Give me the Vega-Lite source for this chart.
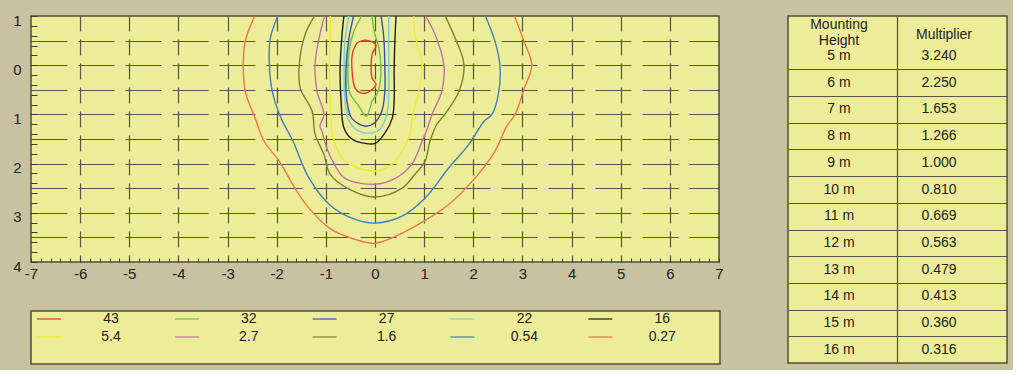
{
  "$schema": "https://vega.github.io/schema/vega-lite/v6.json",
  "background": "#C9C2A0",
  "padding": {"left": 11, "top": 12, "right": 5, "bottom": 5},
  "config": {
    "font": "Liberation Sans",
    "view": {"fill": "#EDED99", "stroke": "#4F4F3A", "strokeWidth": 1.5}
  },
  "datasets": {
    "contours": [
      {"c":"43","i":0,"x":-0.37,"y":-0.45},{"c":"43","i":1,"x":-0.2,"y":-0.51},{"c":"43","i":2,"x":0.02,"y":-0.41},{"c":"43","i":3,"x":-0.06,"y":-0.22},{"c":"43","i":4,"x":-0.06,"y":0.26},{"c":"43","i":5,"x":0.02,"y":0.39},{"c":"43","i":6,"x":-0.2,"y":0.57},{"c":"43","i":7,"x":-0.39,"y":0.49},{"c":"43","i":8,"x":-0.47,"y":0.06},{"c":"43","i":9,"x":-0.45,"y":-0.28},{"c":"43","i":10,"x":-0.37,"y":-0.45},
      {"c":"32","i":0,"x":-0.26,"y":-1.02},{"c":"32","i":1,"x":-0.43,"y":-0.69},{"c":"32","i":2,"x":-0.53,"y":-0.28},{"c":"32","i":3,"x":-0.55,"y":0.18},{"c":"32","i":4,"x":-0.51,"y":0.57},{"c":"32","i":5,"x":-0.33,"y":0.83},{"c":"32","i":6,"x":-0.18,"y":1.04},{"c":"32","i":7,"x":-0.1,"y":0.87},{"c":"32","i":8,"x":-0.06,"y":0.73},{"c":"32","i":9,"x":0.04,"y":0.59},{"c":"32","i":10,"x":0.1,"y":0.39},{"c":"32","i":11,"x":0.12,"y":0.06},{"c":"32","i":12,"x":0.08,"y":-0.35},{"c":"32","i":13,"x":-0.02,"y":-0.69},{"c":"32","i":14,"x":-0.06,"y":-1.02},
      {"c":"27","i":0,"x":-0.43,"y":-1.02},{"c":"27","i":1,"x":-0.53,"y":-0.55},{"c":"27","i":2,"x":-0.59,"y":0.06},{"c":"27","i":3,"x":-0.57,"y":0.73},{"c":"27","i":4,"x":-0.47,"y":1.08},{"c":"27","i":5,"x":-0.2,"y":1.24},{"c":"27","i":6,"x":-0.02,"y":1.18},{"c":"27","i":7,"x":0.14,"y":0.93},{"c":"27","i":8,"x":0.2,"y":0.53},{"c":"27","i":9,"x":0.2,"y":0.06},{"c":"27","i":10,"x":0.18,"y":-0.55},{"c":"27","i":11,"x":0.12,"y":-1.02},
      {"c":"22","i":0,"x":-0.53,"y":-1.02},{"c":"22","i":1,"x":-0.61,"y":-0.49},{"c":"22","i":2,"x":-0.63,"y":0.06},{"c":"22","i":3,"x":-0.61,"y":0.73},{"c":"22","i":4,"x":-0.53,"y":1.14},{"c":"22","i":5,"x":-0.33,"y":1.34},{"c":"22","i":6,"x":-0.12,"y":1.38},{"c":"22","i":7,"x":0.1,"y":1.3},{"c":"22","i":8,"x":0.24,"y":1.0},{"c":"22","i":9,"x":0.28,"y":0.59},{"c":"22","i":10,"x":0.28,"y":0.06},{"c":"22","i":11,"x":0.28,"y":-0.63},{"c":"22","i":12,"x":0.28,"y":-1.02},
      {"c":"16","i":0,"x":-0.63,"y":-1.02},{"c":"16","i":1,"x":-0.67,"y":-0.63},{"c":"16","i":2,"x":-0.71,"y":0.06},{"c":"16","i":3,"x":-0.69,"y":0.73},{"c":"16","i":4,"x":-0.63,"y":1.28},{"c":"16","i":5,"x":-0.47,"y":1.5},{"c":"16","i":6,"x":-0.2,"y":1.59},{"c":"16","i":7,"x":0.0,"y":1.59},{"c":"16","i":8,"x":0.2,"y":1.38},{"c":"16","i":9,"x":0.35,"y":1.08},{"c":"16","i":10,"x":0.39,"y":0.73},{"c":"16","i":11,"x":0.39,"y":0.06},{"c":"16","i":12,"x":0.41,"y":-0.63},{"c":"16","i":13,"x":0.43,"y":-1.02},
      {"c":"5.4","i":0,"x":-0.91,"y":-1.02},{"c":"5.4","i":1,"x":-0.91,"y":-0.63},{"c":"5.4","i":2,"x":-0.93,"y":-0.02},{"c":"5.4","i":3,"x":-0.91,"y":0.73},{"c":"5.4","i":4,"x":-0.87,"y":1.4},{"c":"5.4","i":5,"x":-0.83,"y":1.54},{"c":"5.4","i":6,"x":-0.67,"y":1.89},{"c":"5.4","i":7,"x":-0.33,"y":2.09},{"c":"5.4","i":8,"x":0.0,"y":2.15},{"c":"5.4","i":9,"x":0.35,"y":2.01},{"c":"5.4","i":10,"x":0.55,"y":1.75},{"c":"5.4","i":11,"x":0.71,"y":1.4},{"c":"5.4","i":12,"x":0.75,"y":1.14},{"c":"5.4","i":13,"x":0.79,"y":0.93},{"c":"5.4","i":14,"x":0.89,"y":0.53},{"c":"5.4","i":15,"x":0.96,"y":-0.02},{"c":"5.4","i":16,"x":0.81,"y":-0.63},{"c":"5.4","i":17,"x":0.79,"y":-1.02},
      {"c":"2.7","i":0,"x":-1.02,"y":-1.02},{"c":"2.7","i":1,"x":-1.12,"y":-0.63},{"c":"2.7","i":2,"x":-1.22,"y":-0.02},{"c":"2.7","i":3,"x":-1.18,"y":0.53},{"c":"2.7","i":4,"x":-1.04,"y":1.0},{"c":"2.7","i":5,"x":-1.12,"y":1.24},{"c":"2.7","i":6,"x":-1.08,"y":1.34},{"c":"2.7","i":7,"x":-0.98,"y":1.69},{"c":"2.7","i":8,"x":-0.83,"y":2.01},{"c":"2.7","i":9,"x":-0.61,"y":2.3},{"c":"2.7","i":10,"x":0.0,"y":2.42},{"c":"2.7","i":11,"x":0.41,"y":2.3},{"c":"2.7","i":12,"x":0.75,"y":2.01},{"c":"2.7","i":13,"x":0.96,"y":1.54},{"c":"2.7","i":14,"x":1.06,"y":1.3},{"c":"2.7","i":15,"x":1.16,"y":1.0},{"c":"2.7","i":16,"x":1.36,"y":0.53},{"c":"2.7","i":17,"x":1.4,"y":-0.02},{"c":"2.7","i":18,"x":1.22,"y":-0.63},{"c":"2.7","i":19,"x":1.02,"y":-1.02},
      {"c":"1.6","i":0,"x":-1.22,"y":-1.02},{"c":"1.6","i":1,"x":-1.42,"y":-0.63},{"c":"1.6","i":2,"x":-1.54,"y":-0.02},{"c":"1.6","i":3,"x":-1.52,"y":0.47},{"c":"1.6","i":4,"x":-1.28,"y":0.93},{"c":"1.6","i":5,"x":-1.22,"y":1.4},{"c":"1.6","i":6,"x":-1.04,"y":1.81},{"c":"1.6","i":7,"x":-0.91,"y":2.22},{"c":"1.6","i":8,"x":-0.53,"y":2.52},{"c":"1.6","i":9,"x":0.0,"y":2.68},{"c":"1.6","i":10,"x":0.55,"y":2.5},{"c":"1.6","i":11,"x":0.81,"y":2.22},{"c":"1.6","i":12,"x":1.02,"y":1.95},{"c":"1.6","i":13,"x":1.12,"y":1.54},{"c":"1.6","i":14,"x":1.26,"y":1.2},{"c":"1.6","i":15,"x":1.42,"y":1.0},{"c":"1.6","i":16,"x":1.71,"y":0.53},{"c":"1.6","i":17,"x":1.81,"y":-0.02},{"c":"1.6","i":18,"x":1.63,"y":-0.55},{"c":"1.6","i":19,"x":1.42,"y":-1.02},
      {"c":"0.54","i":0,"x":-1.97,"y":-1.02},{"c":"0.54","i":1,"x":-2.13,"y":-0.55},{"c":"0.54","i":2,"x":-2.15,"y":-0.02},{"c":"0.54","i":3,"x":-2.09,"y":0.53},{"c":"0.54","i":4,"x":-1.91,"y":1.08},{"c":"0.54","i":5,"x":-1.67,"y":1.54},{"c":"0.54","i":6,"x":-1.48,"y":2.01},{"c":"0.54","i":7,"x":-1.34,"y":2.3},{"c":"0.54","i":8,"x":-0.93,"y":2.83},{"c":"0.54","i":9,"x":-0.47,"y":3.11},{"c":"0.54","i":10,"x":0.0,"y":3.21},{"c":"0.54","i":11,"x":0.55,"y":3.07},{"c":"0.54","i":12,"x":1.02,"y":2.7},{"c":"0.54","i":13,"x":1.5,"y":2.09},{"c":"0.54","i":14,"x":1.91,"y":1.61},{"c":"0.54","i":15,"x":2.22,"y":1.14},{"c":"0.54","i":16,"x":2.38,"y":1.0},{"c":"0.54","i":17,"x":2.52,"y":0.53},{"c":"0.54","i":18,"x":2.54,"y":-0.02},{"c":"0.54","i":19,"x":2.44,"y":-0.49},{"c":"0.54","i":20,"x":2.24,"y":-1.02},
      {"c":"0.27","i":0,"x":-2.44,"y":-1.02},{"c":"0.27","i":1,"x":-2.64,"y":-0.49},{"c":"0.27","i":2,"x":-2.68,"y":0.0},{"c":"0.27","i":3,"x":-2.64,"y":0.53},{"c":"0.27","i":4,"x":-2.44,"y":1.08},{"c":"0.27","i":5,"x":-2.26,"y":1.54},{"c":"0.27","i":6,"x":-1.95,"y":1.95},{"c":"0.27","i":7,"x":-1.63,"y":2.5},{"c":"0.27","i":8,"x":-1.34,"y":2.91},{"c":"0.27","i":9,"x":-0.93,"y":3.31},{"c":"0.27","i":10,"x":-0.47,"y":3.52},{"c":"0.27","i":11,"x":0.0,"y":3.62},{"c":"0.27","i":12,"x":0.41,"y":3.48},{"c":"0.27","i":13,"x":0.89,"y":3.23},{"c":"0.27","i":14,"x":1.5,"y":2.83},{"c":"0.27","i":15,"x":2.03,"y":2.3},{"c":"0.27","i":16,"x":2.44,"y":1.75},{"c":"0.27","i":17,"x":2.68,"y":1.24},{"c":"0.27","i":18,"x":2.85,"y":1.0},{"c":"0.27","i":19,"x":3.03,"y":0.49},{"c":"0.27","i":20,"x":3.19,"y":0.0},{"c":"0.27","i":21,"x":3.03,"y":-0.49},{"c":"0.27","i":22,"x":2.83,"y":-1.02}
    ],
    "legend": [
      {"c":"43","col":0,"row":0},{"c":"32","col":1,"row":0},{"c":"27","col":2,"row":0},{"c":"22","col":3,"row":0},{"c":"16","col":4,"row":0},
      {"c":"5.4","col":0,"row":1},{"c":"2.7","col":1,"row":1},{"c":"1.6","col":2,"row":1},{"c":"0.54","col":3,"row":1},{"c":"0.27","col":4,"row":1}
    ],
    "table": [
      {"r":0,"col":0,"t":"Mounting\nHeight"},{"r":0,"col":1,"t":"Multiplier"},
      {"r":1,"col":0,"t":"5 m"},{"r":1,"col":1,"t":"3.240"},
      {"r":2,"col":0,"t":"6 m"},{"r":2,"col":1,"t":"2.250"},
      {"r":3,"col":0,"t":"7 m"},{"r":3,"col":1,"t":"1.653"},
      {"r":4,"col":0,"t":"8 m"},{"r":4,"col":1,"t":"1.266"},
      {"r":5,"col":0,"t":"9 m"},{"r":5,"col":1,"t":"1.000"},
      {"r":6,"col":0,"t":"10 m"},{"r":6,"col":1,"t":"0.810"},
      {"r":7,"col":0,"t":"11 m"},{"r":7,"col":1,"t":"0.669"},
      {"r":8,"col":0,"t":"12 m"},{"r":8,"col":1,"t":"0.563"},
      {"r":9,"col":0,"t":"13 m"},{"r":9,"col":1,"t":"0.479"},
      {"r":10,"col":0,"t":"14 m"},{"r":10,"col":1,"t":"0.413"},
      {"r":11,"col":0,"t":"15 m"},{"r":11,"col":1,"t":"0.360"},
      {"r":12,"col":0,"t":"16 m"},{"r":12,"col":1,"t":"0.316"}
    ]
  },
  "spacing": 63,
  "hconcat": [
    {
      "spacing": 28,
      "vconcat": [
        {
          "width": 688,
          "height": 246,
          "data": {"name": "contours"},
          "mark": {"type": "line", "strokeWidth": 1.4, "clip": true, "interpolate": "catmull-rom"},
          "encoding": {
            "x": {
              "field": "x", "type": "quantitative",
              "scale": {"domain": [-7, 7], "nice": false, "zero": false},
              "axis": {
                "title": null,
                "values": [-7,-6.8,-6.6,-6.4,-6.2,-6,-5.8,-5.6,-5.4,-5.2,-5,-4.8,-4.6,-4.4,-4.2,-4,-3.8,-3.6,-3.4,-3.2,-3,-2.8,-2.6,-2.4,-2.2,-2,-1.8,-1.6,-1.4,-1.2,-1,-0.8,-0.6,-0.4,-0.2,0,0.2,0.4,0.6,0.8,1,1.2,1.4,1.6,1.8,2,2.2,2.4,2.6,2.8,3,3.2,3.4,3.6,3.8,4,4.2,4.4,4.6,4.8,5,5.2,5.4,5.6,5.8,6,6.2,6.4,6.6,6.8,7],
                "domain": false,
                "grid": true,
                "gridColor": "#3E3E2A",
                "gridWidth": 1.2,
                "gridDash": [16, 8],
                "gridDashOffset": 9,
                "gridOpacity": {"condition": {"test": "abs(datum.value - round(datum.value)) < 0.001 && abs(datum.value) < 6.9", "value": 0.85}, "value": 0},
                "ticks": true,
                "tickSize": -4,
                "tickColor": "#3E3E2A",
                "tickWidth": 1,
                "labelExpr": "abs(datum.value - round(datum.value)) < 0.001 ? '' + round(datum.value) : ''",
                "labelOverlap": false,
                "labelFlush": false,
                "labelBound": false,
                "labelFontSize": 15,
                "labelColor": "#222222",
                "labelPadding": 8
              }
            },
            "y": {
              "field": "y", "type": "quantitative",
              "scale": {"domain": [-1, 4], "reverse": true, "nice": false, "zero": false},
              "axis": {
                "title": null,
                "values": [-1,-0.9,-0.8,-0.7,-0.6,-0.5,-0.4,-0.3,-0.2,-0.1,0,0.1,0.2,0.3,0.4,0.5,0.6,0.7,0.8,0.9,1,1.1,1.2,1.3,1.4,1.5,1.6,1.7,1.8,1.9,2,2.1,2.2,2.3,2.4,2.5,2.6,2.7,2.8,2.9,3,3.1,3.2,3.3,3.4,3.5,3.6,3.7,3.8,3.9,4],
                "domain": false,
                "grid": true,
                "gridColor": "#3E3E2A",
                "gridWidth": 1.2,
                "gridDash": [36, 11],
                "gridDashOffset": 0,
                "gridOpacity": {"condition": {"test": "abs(datum.value*2 - round(datum.value*2)) < 0.001 && datum.value > -0.9 && datum.value < 3.9", "value": 0.85}, "value": 0},
                "ticks": true,
                "tickSize": -6,
                "tickColor": "#3E3E2A",
                "tickWidth": 1,
                "tickOpacity": {"condition": {"test": "abs(datum.value*5 - round(datum.value*5)) < 0.001", "value": 1}, "value": 0},
                "labelExpr": "abs(datum.value - round(datum.value)) < 0.001 ? '' + abs(round(datum.value)) : ''",
                "labelOverlap": false,
                "labelFlush": false,
                "labelBound": false,
                "labelFontSize": 15,
                "labelColor": "#222222",
                "labelPadding": 16,
                "labelOffset": 4
              }
            },
            "color": {
              "field": "c", "type": "nominal",
              "scale": {"domain": ["43","32","27","22","16","5.4","2.7","1.6","0.54","0.27"], "range": ["#E53A2E","#6CC04A","#3D4FA0","#6FCFD8","#1E1E1E","#F2EA2C","#C56FA5","#7D8030","#3F7FBE","#F07740"]},
              "legend": null
            },
            "order": {"field": "i", "type": "quantitative"}
          }
        },
        {
          "width": 689,
          "height": 53,
          "data": {"name": "legend"},
          "encoding": {
            "x": {"field": "col", "type": "quantitative", "scale": {"domain": [-0.131, 4.869], "nice": false, "zero": false}, "axis": null},
            "y": {"field": "row", "type": "quantitative", "scale": {"domain": [-0.444, 2.5], "reverse": true, "nice": false, "zero": false}, "axis": null}
          },
          "layer": [
            {
              "mark": {"type": "tick", "orient": "horizontal", "size": 24, "thickness": 1.2, "opacity": 1},
              "encoding": {
                "color": {
                  "field": "c", "type": "nominal",
                  "scale": {"domain": ["43","32","27","22","16","5.4","2.7","1.6","0.54","0.27"], "range": ["#E53A2E","#6CC04A","#3D4FA0","#6FCFD8","#1E1E1E","#F2EA2C","#C56FA5","#7D8030","#3F7FBE","#F07740"]},
                  "legend": null
                }
              }
            },
            {
              "mark": {"type": "text", "dx": 62, "fontSize": 14, "align": "center", "baseline": "middle", "color": "#222222"},
              "encoding": {"text": {"field": "c"}}
            }
          ]
        }
      ]
    },
    {
      "width": 219,
      "height": 347,
      "data": {"name": "table"},
      "encoding": {
        "x": {
          "field": "col", "type": "quantitative",
          "scale": {"domain": [-0.51, 1.68], "nice": false, "zero": false},
          "axis": {"title": null, "values": [0.58], "grid": true, "gridColor": "#555544", "gridWidth": 1.2, "labels": false, "ticks": false, "domain": false}
        },
        "y": {
          "field": "r", "type": "quantitative",
          "scale": {"domain": [-0.5, 12.5], "reverse": true, "nice": false, "zero": false},
          "axis": {"title": null, "values": [1.5,2.5,3.5,4.5,5.5,6.5,7.5,8.5,9.5,10.5,11.5], "grid": true, "gridColor": "#555544", "gridWidth": 1.2, "labels": false, "ticks": false, "domain": false}
        },
        "text": {"field": "t"}
      },
      "layer": [
        {
          "transform": [{"filter": "datum.r > 0"}],
          "mark": {"type": "text", "fontSize": 14, "align": "center", "baseline": "middle", "color": "#222222"}
        },
        {
          "transform": [{"filter": "datum.r == 0 && datum.col == 0"}],
          "mark": {"type": "text", "fontSize": 14, "align": "center", "baseline": "middle", "color": "#222222", "dy": -4, "lineBreak": "\n", "lineHeight": 16}
        },
        {
          "transform": [{"filter": "datum.r == 0 && datum.col == 1"}],
          "mark": {"type": "text", "fontSize": 14, "align": "center", "baseline": "middle", "color": "#222222", "dy": 6, "dx": 5}
        }
      ]
    }
  ]
}
